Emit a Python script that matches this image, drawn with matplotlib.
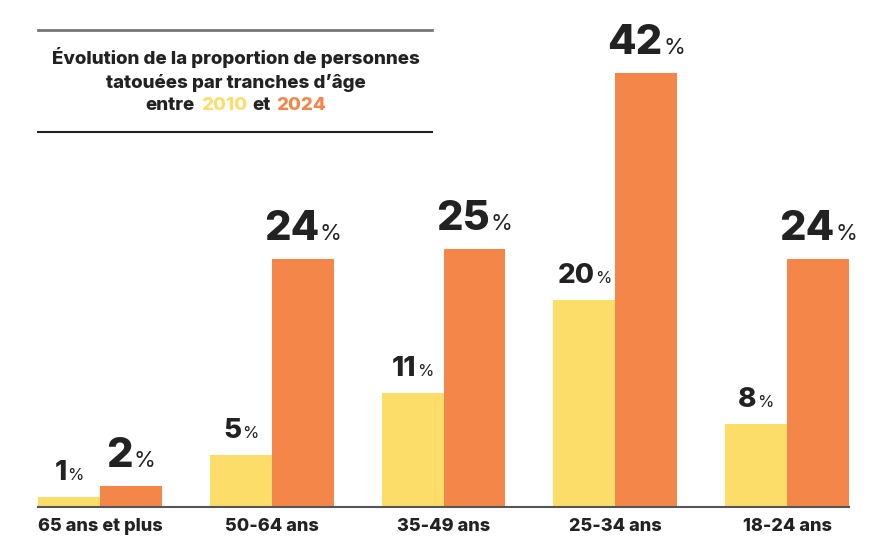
import matplotlib
matplotlib.use("Agg")
import matplotlib.pyplot as plt
import numpy as np
from matplotlib.offsetbox import TextArea, HPacker, AnnotationBbox
from matplotlib.lines import Line2D

categories = ["65 ans et plus", "50-64 ans", "35-49 ans", "25-34 ans", "18-24 ans"]
values_2010 = [1, 5, 11, 20, 8]
values_2024 = [2, 24, 25, 42, 24]

YELLOW = "#FDDD6A"
ORANGE = "#F38648"
DARK = "#222222"
FONT = "Inter"

W, H = 883, 552
fig = plt.figure(figsize=(W / 100, H / 100), dpi=100)
ax = fig.add_axes([38 / W, 45 / H, 811 / W, 507 / H])

x = np.arange(len(categories))
bw = 62 / 172
ax.bar(x - bw / 2, values_2010, bw, color=YELLOW, linewidth=0)
ax.bar(x + bw / 2, values_2024, bw, color=ORANGE, linewidth=0)
ax.set_xlim(-bw, len(categories) - 1 + bw)
ax.set_ylim(0, 507 / 10.33)

for s in ["top", "right", "left"]:
    ax.spines[s].set_visible(False)
ax.spines["bottom"].set_color("#555555")
ax.spines["bottom"].set_linewidth(1.5)
ax.set_yticks([])
ax.set_xticks(x)
ax.set_xticklabels(categories, fontsize=13, fontweight="heavy", family=FONT, color=DARK)
ax.tick_params(axis="x", length=0, pad=8)


def label(xpos, val, size, psize, gap):
    num = TextArea(str(val), textprops=dict(fontsize=size, fontweight="heavy", family=FONT, color=DARK))
    pct = TextArea("%", textprops=dict(fontsize=psize, fontweight="normal", family=FONT, color=DARK))
    pack = HPacker(children=[num, pct], align="baseline", pad=0, sep=0.5)
    ab = AnnotationBbox(pack, (xpos, val), xybox=(0, gap), xycoords="data",
                        boxcoords="offset points", box_alignment=(0.5, 0), frameon=False)
    ax.add_artist(ab)


for i in range(len(categories)):
    label(x[i] - bw / 2, values_2010[i], 20, 12, 8)
    label(x[i] + bw / 2, values_2024[i], 30, 16, 8)

# Title block
fig.add_artist(Line2D([38 / W, 432 / W], [1 - 30 / H, 1 - 30 / H], color="#777777", lw=2))
fig.add_artist(Line2D([38 / W, 432 / W], [1 - 132 / H, 1 - 132 / H], color="#222222", lw=1.5))
tcx = 236 / W
tsize = 13.5
tprops = dict(fontsize=tsize, fontweight="heavy", family=FONT, color=DARK)
fig.text(tcx, 1 - 58 / H, "Évolution de la proportion de personnes", ha="center", va="center", **tprops)
fig.text(tcx, 1 - 83 / H, "tatouées par tranches d’âge", ha="center", va="center", **tprops)
parts = [("entre", DARK), ("2010", YELLOW), ("et", DARK), ("2024", ORANGE)]
tas = [TextArea(t, textprops=dict(fontsize=tsize, fontweight="heavy", family=FONT, color=c)) for t, c in parts]
pk = HPacker(children=tas, align="baseline", pad=0, sep=4)
ab = AnnotationBbox(pk, (tcx, 1 - 106 / H), xycoords="figure fraction", box_alignment=(0.5, 0.5), frameon=False)
fig.add_artist(ab)

fig.savefig("out.png", dpi=100, facecolor="white")
